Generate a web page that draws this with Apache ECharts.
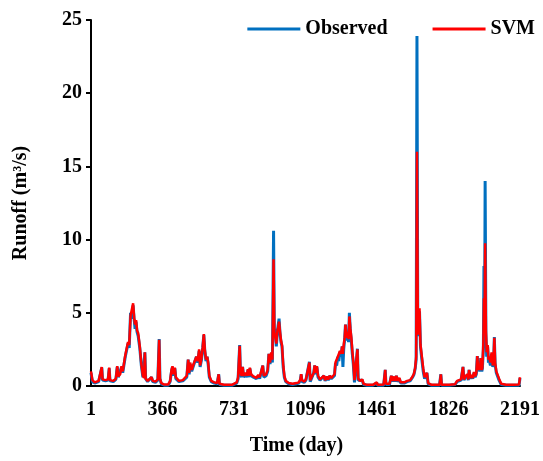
<!DOCTYPE html>
<html>
<head>
<meta charset="utf-8">
<script src="https://cdn.jsdelivr.net/npm/echarts@6/dist/echarts.min.js"></script>
<style>html,body{margin:0;padding:0;background:#fff;}#chart{width:543px;height:461px;}</style>
</head>
<body>
<div id="chart"></div>
<script>
const xTickLabels = [1, 366, 731, 1096, 1461, 1826, 2191];
const yTicks = [0, 5, 10, 15, 20, 25];
const seriesNames = ['Observed', 'SVM'];
const days = [
  1, 8, 20, 40, 50, 56, 60, 75, 88, 94, 98, 115, 128, 135, 140, 150, 157, 163, 170, 176,
  183, 190, 196, 203, 210, 216, 221, 226, 231, 236, 242, 250, 258, 266, 272, 276, 280, 290, 300, 310,
  316, 330, 342, 349, 353, 360, 375, 395, 405, 412, 417, 422, 429, 434, 450, 470, 480, 490, 497, 502,
  507, 515, 522, 530, 539, 546, 553, 558, 565, 571, 577, 582, 588, 594, 599, 605, 615, 630, 645, 653,
  657, 680, 720, 745, 752, 760, 764, 770, 775, 780, 790, 797, 802, 808, 812, 818, 830, 845, 855, 862,
  872, 878, 883, 895, 903, 909, 915, 921, 927, 933, 937, 941, 947, 952, 956, 961, 966, 971, 976, 982,
  988, 995, 1010, 1030, 1050, 1062, 1070, 1074, 1078, 1090, 1098, 1104, 1116, 1120, 1130, 1138, 1143, 1148, 1154, 1160,
  1170, 1180, 1190, 1196, 1205, 1212, 1220, 1228, 1236, 1244, 1249, 1255, 1261, 1266, 1272, 1278, 1283, 1287, 1291, 1296,
  1300, 1305, 1310, 1316, 1320, 1325, 1330, 1335, 1340, 1346, 1352, 1361, 1365, 1375, 1386, 1392, 1410, 1440, 1460, 1464,
  1495, 1503, 1507, 1525, 1534, 1540, 1548, 1553, 1560, 1566, 1575, 1582, 1600, 1615, 1630, 1643, 1650, 1656, 1661, 1665,
  1669, 1673, 1678, 1683, 1690, 1697, 1704, 1711, 1716, 1722, 1740, 1780, 1787, 1791, 1830, 1860, 1870, 1880, 1890, 1896,
  1900, 1905, 1912, 1918, 1922, 1927, 1931, 1937, 1944, 1950, 1956, 1962, 1968, 1973, 1978, 1982, 1987, 1991, 1996, 1999,
  2004, 2007, 2010, 2013, 2017, 2021, 2026, 2030, 2034, 2040, 2046, 2052, 2056, 2060, 2064, 2070, 2077, 2084, 2095, 2120,
  2160, 2186, 2191
];
const observed = [
  0.9, 0.3, 0.2, 0.3, 0.4, 1.25, 0.4, 0.35, 0.4, 1.2, 0.35, 0.3, 0.45, 1.3, 0.6, 0.7, 1.3, 0.9, 1.5, 2.0,
  1.9, 2.9, 2.6, 5.0, 4.6, 5.5, 4.6, 3.9, 4.4, 3.7, 3.4, 2.6, 1.4, 0.6, 0.5, 2.3, 0.5, 0.3, 0.25, 0.6,
  0.3, 0.25, 0.4, 3.2, 0.5, 0.15, 0.05, 0.05, 0.3, 1.0, 1.3, 0.7, 1.2, 0.5, 0.3, 0.35, 0.4, 0.6, 1.8, 0.8,
  1.5, 1.0, 1.3, 1.2, 2.0, 1.6, 2.4, 1.3, 1.8, 2.6, 3.5, 2.4, 1.7, 2.0, 1.5, 0.6, 0.3, 0.2, 0.15, 0.8,
  0.1, 0.05, 0.05, 0.2, 0.5, 2.8, 0.8, 0.6, 1.3, 0.6, 0.8, 0.6, 1.1, 0.6, 1.2, 0.7, 0.6, 0.5, 0.7, 0.5,
  0.6, 1.4, 0.6, 0.7, 1.0, 2.2, 1.5, 2.2, 1.6, 10.6, 3.5, 3.9, 2.7, 3.6, 4.1, 4.6, 3.6, 3.0, 2.7, 1.3,
  0.6, 0.3, 0.15, 0.1, 0.15, 0.2, 0.4, 0.8, 0.3, 0.25, 0.4, 0.3, 1.65, 0.3, 0.4, 0.9, 1.4, 0.8, 1.3, 0.6,
  0.4, 0.3, 0.7, 0.35, 0.6, 0.4, 0.7, 0.5, 0.6, 0.7, 1.55, 1.4, 2.0, 1.7, 2.35, 2.0, 2.7, 1.3, 2.5, 3.2,
  4.2, 3.1, 3.6, 3.0, 5.0, 3.8, 3.1, 2.2, 1.5, 0.25, 0.3, 2.55, 0.4, 0.3, 0.4, 0.1, 0.05, 0.05, 0.2, 0.05,
  0.05, 1.1, 0.1, 0.1, 0.7, 0.3, 0.6, 0.3, 0.7, 0.3, 0.5, 0.2, 0.2, 0.3, 0.35, 0.6, 0.8, 1.2, 1.8, 23.9,
  5.0, 3.4, 5.1, 2.7, 1.8, 1.0, 0.5, 0.4, 0.9, 0.15, 0.05, 0.05, 0.8, 0.05, 0.05, 0.1, 0.3, 0.2, 0.4, 0.3,
  1.3, 0.4, 0.6, 0.5, 0.75, 0.4, 1.1, 0.5, 0.7, 0.5, 0.9, 0.6, 0.8, 2.05, 1.0, 1.3, 1.0, 1.9, 1.0, 1.2,
  2.5, 8.2, 3.0, 14.0, 3.6, 2.0, 2.7, 1.6, 1.8, 1.4, 2.2, 1.3, 1.5, 3.35, 1.5, 0.9, 0.9, 0.4, 0.1, 0.05,
  0.05, 0.05, 0.55
];
const svm = [
  1.0, 0.4, 0.25, 0.35, 0.45, 1.3, 0.45, 0.4, 0.45, 1.25, 0.4, 0.35, 0.5, 1.35, 0.65, 0.8, 1.35, 1.0, 1.6, 2.1,
  2.0, 3.0, 2.8, 4.8, 4.9, 5.65, 4.7, 4.2, 4.5, 3.8, 3.6, 2.7, 1.5, 0.7, 0.55, 2.3, 0.5, 0.35, 0.3, 0.6,
  0.35, 0.3, 0.45, 3.15, 0.5, 0.2, 0.1, 0.1, 0.35, 1.1, 1.35, 0.8, 1.25, 0.6, 0.35, 0.4, 0.5, 0.7, 1.8, 0.9,
  1.6, 1.1, 1.4, 1.3, 2.0, 1.7, 2.5, 1.4, 1.9, 2.6, 3.55, 2.5, 1.8, 2.0, 1.6, 0.7, 0.35, 0.25, 0.2, 0.8,
  0.15, 0.08, 0.08, 0.25, 0.6, 2.75, 0.9, 0.7, 1.3, 0.7, 0.9, 0.7, 1.15, 0.7, 1.25, 0.8, 0.65, 0.55, 0.75, 0.6,
  0.65, 1.4, 0.7, 0.8, 1.1, 2.2, 1.6, 2.3, 1.8, 8.65, 3.7, 3.8, 2.9, 3.7, 4.0, 4.4, 3.7, 3.1, 2.8, 1.5,
  0.7, 0.35, 0.2, 0.15, 0.2, 0.25, 0.45, 0.8, 0.4, 0.3, 0.45, 0.35, 1.6, 0.4, 0.45, 0.9, 1.4, 0.9, 1.35, 0.7,
  0.45, 0.35, 0.7, 0.4, 0.65, 0.45, 0.7, 0.55, 0.65, 0.8, 1.6, 1.5, 2.0, 1.9, 2.4, 2.2, 2.7, 2.2, 2.8, 3.3,
  4.2, 3.3, 3.7, 3.2, 4.75, 3.9, 3.3, 2.4, 1.7, 0.4, 0.35, 2.5, 0.5, 0.35, 0.45, 0.15, 0.08, 0.08, 0.25, 0.08,
  0.1, 1.1, 0.15, 0.15, 0.7, 0.35, 0.65, 0.35, 0.7, 0.35, 0.55, 0.25, 0.25, 0.35, 0.4, 0.65, 0.85, 1.25, 2.0, 16.0,
  5.4, 3.5, 5.3, 2.8, 2.0, 1.2, 0.6, 0.5, 0.9, 0.2, 0.08, 0.08, 0.8, 0.08, 0.08, 0.12, 0.35, 0.25, 0.45, 0.35,
  1.3, 0.45, 0.65, 0.55, 0.8, 0.45, 1.1, 0.55, 0.75, 0.55, 0.95, 0.65, 0.9, 2.05, 1.1, 1.35, 1.1, 1.9, 1.1, 1.25,
  3.0, 6.0, 4.0, 9.75, 3.8, 2.3, 2.8, 1.8, 2.0, 1.6, 2.3, 1.4, 1.7, 3.3, 1.6, 1.0, 0.95, 0.5, 0.15, 0.08,
  0.08, 0.1, 0.6
];

const font = 'Liberation Serif, Times New Roman, serif';
const chart = echarts.init(document.getElementById('chart'), null, {renderer: 'canvas'});
chart.setOption({
  animation: false,
  backgroundColor: '#ffffff',
  grid: {left: 91, right: 22, top: 20, bottom: 75, containLabel: false},
  legend: {
    data: seriesNames,
    right: 3, top: 14,
    icon: 'rect', itemWidth: 53, itemHeight: 3, itemGap: 45,
    textStyle: {fontFamily: font, fontWeight: 'bold', fontSize: 20, color: '#000'}
  },
  xAxis: {
    type: 'value', min: 1, max: 2191,
    name: 'Time (day)', nameLocation: 'middle', nameGap: 50,
    nameTextStyle: {fontFamily: font, fontWeight: 'bold', fontSize: 20, color: '#000', padding: [0, 18, 0, 0]},
    axisLine: {show: true, lineStyle: {color: '#000', width: 2}},
    axisTick: {show: false},
    splitLine: {show: false},
    axisLabel: {customValues: xTickLabels, formatter: v => String(v), margin: 14, fontFamily: font, fontWeight: 'bold', fontSize: 20, color: '#000'}
  },
  yAxis: {
    type: 'value', min: yTicks[0], max: yTicks[yTicks.length - 1], interval: 5,
    name: 'Runoff (m³/s)', nameLocation: 'middle', nameGap: 60, nameRotate: 90,
    nameTextStyle: {fontFamily: font, fontWeight: 'bold', fontSize: 20, color: '#000'},
    axisLine: {show: true, lineStyle: {color: '#000', width: 2}},
    axisTick: {show: true, inside: false, length: 5, lineStyle: {color: '#000', width: 2}},
    splitLine: {show: false},
    axisLabel: {margin: 9, fontFamily: font, fontWeight: 'bold', fontSize: 20, color: '#000'}
  },
  series: [
    {
      name: seriesNames[0], type: 'line', showSymbol: false, symbol: 'none',
      color: '#0070C0', lineStyle: {color: '#0070C0', width: 3},
      data: days.map((d, i) => [d, observed[i]])
    },
    {
      name: seriesNames[1], type: 'line', showSymbol: false, symbol: 'none',
      color: '#FF0000', lineStyle: {color: '#FF0000', width: 2.5},
      data: days.map((d, i) => [d, svm[i]])
    }
  ]
});
</script>
</body>
</html>
